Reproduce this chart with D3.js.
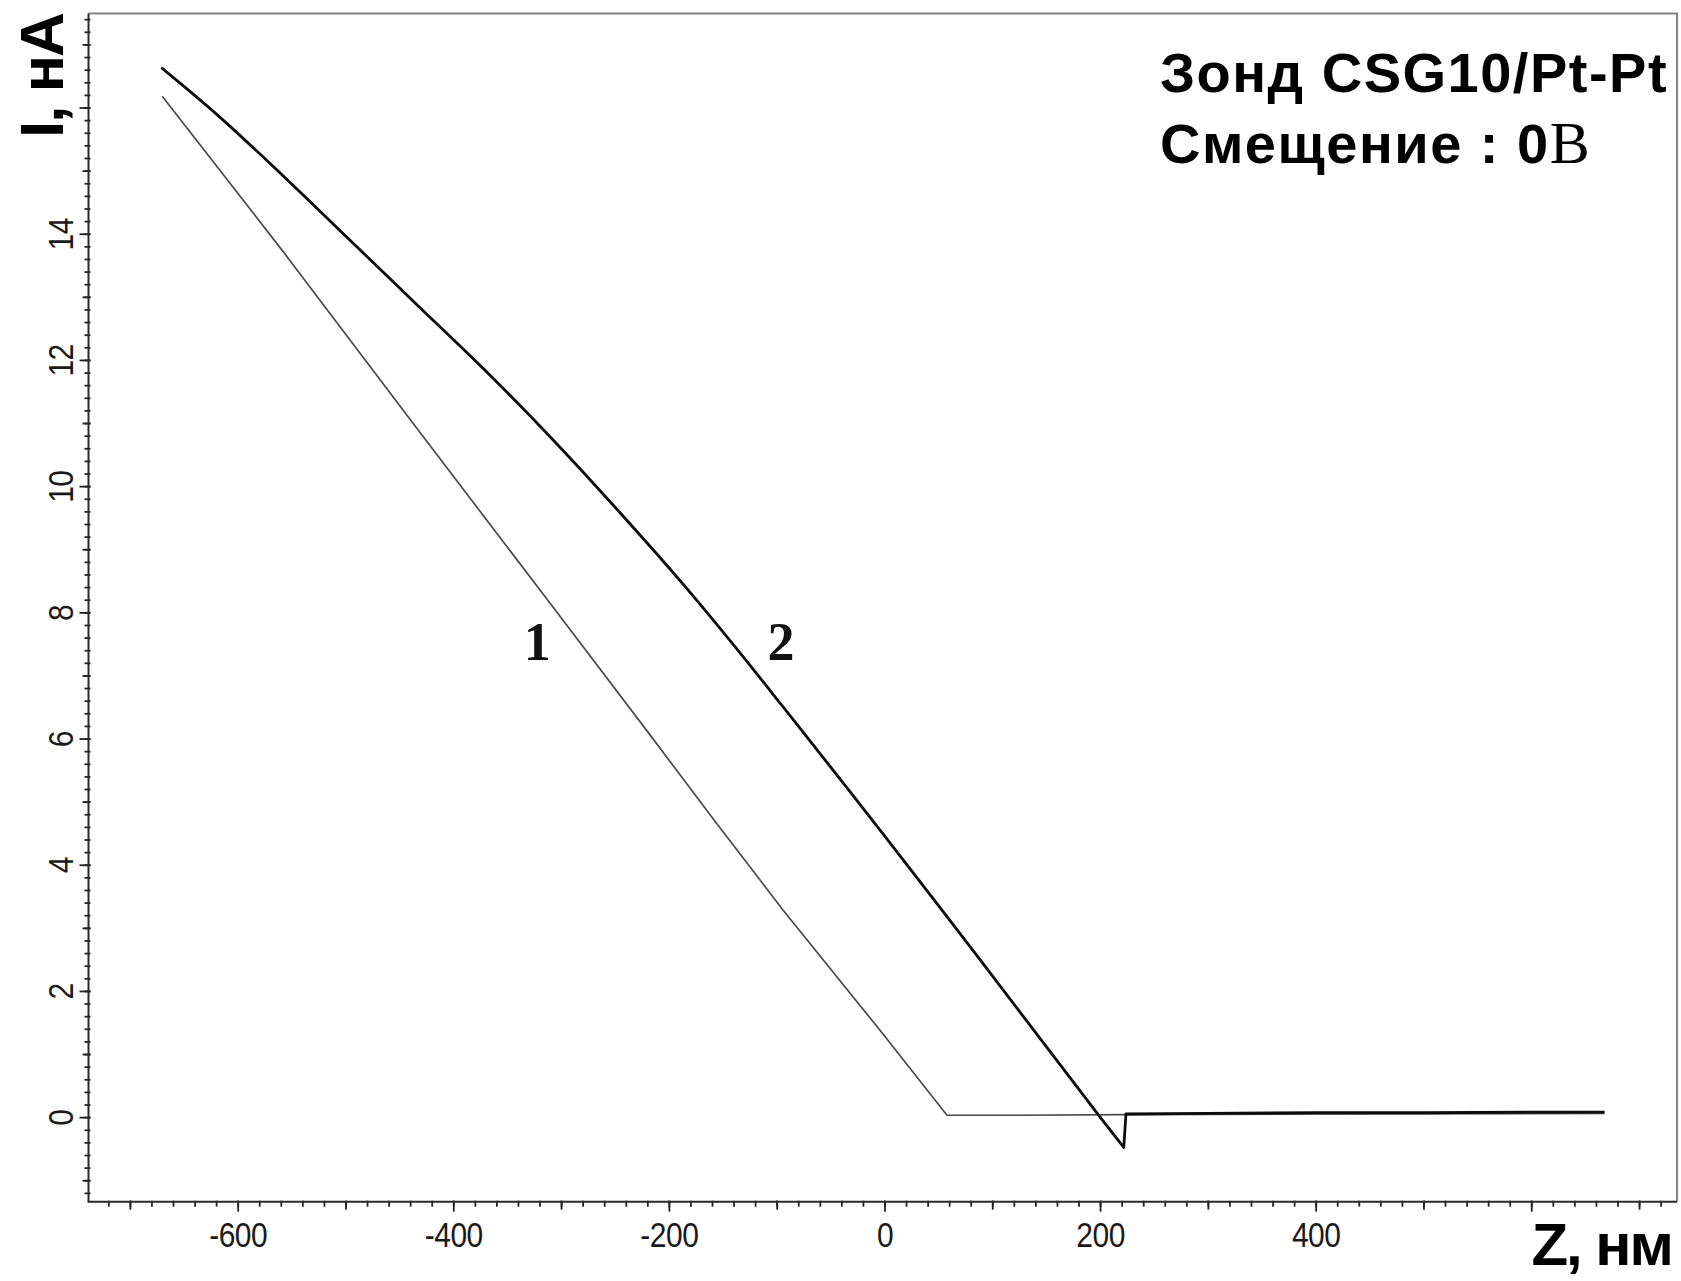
<!DOCTYPE html>
<html>
<head>
<meta charset="utf-8">
<script src="https://cdn.jsdelivr.net/npm/d3@7"></script>
<style>
  html, body { margin: 0; padding: 0; background: #fff; }
  svg { display: block; }
</style>
</head>
<body>
<svg id="chart" width="1681" height="1281"></svg>
<script>
// Tip approach (1) and retraction (2) curves: current I (nA) vs. Z (nm)
const zApproach = [-670, -558, -434, -310, -218, -156, -94, -1, 58, 120, 225, 400, 668];
const iApproach = [16.18, 13.72, 10.92, 8.14, 6.07, 4.66, 3.28, 1.31, 0.03, 0.03, 0.04, 0.05, 0.06];

const zRetract = [-670, -620, -558, -496, -434, -372, -310, -248, -186, -137, -94, -32, -1, 48, 92, 200, 222, 224, 300, 400, 500, 600, 668];
const iRetract = [16.62, 15.90, 14.92, 13.90, 12.88, 11.86, 10.78, 9.63, 8.43, 7.42, 6.50, 5.16, 4.48, 3.40, 2.42, 0.00, -0.48, 0.05, 0.06, 0.07, 0.07, 0.08, 0.08];

const xTickLabels = [-600, -400, -200, 0, 200, 400];
const yTickLabels = [0, 2, 4, 6, 8, 10, 12, 14];
const curveNames = ["1", "2"];
const titleLines = ["Зонд CSG10/Pt-Pt", "Смещение : 0"];
const voltUnit = "В";
const xTitle = "Z, нм";
const yTitle = "I, нА";

(function draw() {
  const svg = d3.select("#chart");
  const pL = 88.5, pR = 1677, pT = 13.5, pB = 1201.7;

  const x = d3.scaleLinear().domain([-738.4, 735.2]).range([pL, pR]);
  const y = d3.scaleLinear().domain([-1.34, 17.49]).range([pB, pT]);

  svg.append("rect").attr("width", 1681).attr("height", 1281).attr("fill", "#fff");

  // frame: grey top/right edges
  svg.append("path")
    .attr("d", `M${pL},${pT}H${pR}V${pB}`)
    .attr("fill", "none").attr("stroke", "#858585").attr("stroke-width", 2);

  // tick sets
  const xMinor = d3.range(-36, 37).map(i => i * 20);
  const xMid = d3.range(-7, 8, 2).map(i => i * 100);
  const xMajor = d3.range(-6, 7, 2).map(i => i * 100);
  const yMinor = d3.range(-6, 88).map(i => i / 5);
  const yMid = d3.range(-1, 18, 2);
  const yMajor = d3.range(0, 17, 2);

  function ticksX(values, len, inner) {
    const g = svg.append("g").attr("transform", `translate(0,${pB})`)
      .call(d3.axisBottom(x).tickValues(values).tickSize(len).tickSizeOuter(0).tickFormat(""));
    g.select(".domain").remove();
    g.selectAll("line").attr("y1", -inner).attr("stroke", "#222").attr("stroke-width", 1.8);
  }
  function ticksY(values, len, inner) {
    const g = svg.append("g").attr("transform", `translate(${pL},0)`)
      .call(d3.axisLeft(y).tickValues(values).tickSize(len).tickSizeOuter(0).tickFormat(""));
    g.select(".domain").remove();
    g.selectAll("line").attr("x1", inner).attr("stroke", "#222").attr("stroke-width", 1.8);
  }
  ticksX(xMinor, 5, 1);
  ticksX(xMid, 8, 1);
  ticksX(xMajor, 10, 1);
  ticksY(yMinor, 4, 2);
  ticksY(yMid, 6, 2);
  ticksY(yMajor, 9, 2);

  // dark left and bottom axis lines
  svg.append("path")
    .attr("d", `M${pL},${pT}V${pB}H${pR}`)
    .attr("fill", "none").attr("stroke", "#2a2a2a").attr("stroke-width", 2);

  // tick labels (plain hyphen for negatives)
  const labelFont = "'Liberation Sans', Arial, sans-serif";
  const plain = d => String(d);
  const gxl = svg.append("g").attr("transform", `translate(0,${pB})`)
    .call(d3.axisBottom(x).tickValues(xTickLabels).tickSize(0).tickFormat(plain));
  gxl.select(".domain").remove();
  gxl.selectAll("text")
    .attr("y", null).attr("dy", null)
    .attr("transform", "translate(0,45.5) scale(1,1.15)")
    .attr("font-family", labelFont).attr("font-size", 30).attr("fill", "#1a1a1a")
    .attr("letter-spacing", -0.5);

  const gyl = svg.append("g").attr("transform", `translate(${pL},0)`)
    .call(d3.axisLeft(y).tickValues(yTickLabels).tickSize(0).tickFormat(plain));
  gyl.select(".domain").remove();
  gyl.selectAll("text")
    .attr("x", null).attr("dy", null)
    .attr("text-anchor", "middle")
    .attr("transform", "translate(-15.5,0) rotate(-90) scale(1,1.15)")
    .attr("font-family", labelFont).attr("font-size", 30).attr("fill", "#1a1a1a")
    .attr("letter-spacing", -0.5);

  // curves
  const line = d3.line().x(d => x(d[0])).y(d => y(d[1]));
  const smooth = d3.line().x(d => x(d[0])).y(d => y(d[1])).curve(d3.curveMonotoneX);
  const approach = zApproach.map((z, i) => [z, iApproach[i]]);
  const retract = zRetract.map((z, i) => [z, iRetract[i]]);
  // retraction: smooth descending branch down to the zero crossing, straight V and plateau after it
  const split = zRetract.indexOf(200);
  const retractSlope = retract.slice(0, split + 1);
  const retractTail = retract.slice(split);

  svg.append("path").datum(approach).attr("d", line)
    .attr("fill", "none").attr("stroke", "#4a4a4a").attr("stroke-width", 1.7)
    .attr("stroke-linejoin", "round");
  svg.append("path").datum(retractSlope).attr("d", smooth)
    .attr("fill", "none").attr("stroke", "#0c0c0c").attr("stroke-width", 2.8)
    .attr("stroke-linecap", "round");
  svg.append("path").datum(retractTail).attr("d", line)
    .attr("fill", "none").attr("stroke", "#0c0c0c").attr("stroke-width", 2.8)
    .attr("stroke-linejoin", "round");

  // curve numbers
  const serif = "'Liberation Serif', 'Times New Roman', serif";
  svg.append("text").attr("x", x(-322)).attr("y", y(7.25))
    .attr("text-anchor", "middle").attr("font-family", serif).attr("font-weight", "bold")
    .attr("font-size", 54).attr("fill", "#111").text(curveNames[0]);
  svg.append("text").attr("x", x(-96)).attr("y", y(7.25))
    .attr("text-anchor", "middle").attr("font-family", serif).attr("font-weight", "bold")
    .attr("font-size", 54).attr("fill", "#111").text(curveNames[1]);

  // probe / bias annotation
  const boldSans = "'Liberation Sans', Arial, sans-serif";
  svg.append("text").attr("x", 1160).attr("y", 92)
    .attr("font-family", boldSans).attr("font-weight", "bold").attr("font-size", 56)
    .attr("letter-spacing", 1.5).attr("fill", "#000").text(titleLines[0]);
  const t2 = svg.append("text").attr("x", 1160).attr("y", 163)
    .attr("font-family", boldSans).attr("font-weight", "bold").attr("font-size", 56)
    .attr("letter-spacing", 1.5).attr("fill", "#000");
  t2.append("tspan").text(titleLines[1]);
  t2.append("tspan").attr("font-family", serif).attr("font-weight", "normal")
    .attr("font-size", 60).attr("letter-spacing", 0).text(voltUnit);

  // axis titles
  svg.append("text").attr("transform", "translate(63,138) rotate(-90)")
    .attr("font-family", boldSans).attr("font-weight", "bold").attr("font-size", 62)
    .attr("letter-spacing", -2).attr("fill", "#000").text(yTitle);
  svg.append("text").attr("x", 1672).attr("y", 1265).attr("text-anchor", "end")
    .attr("font-family", boldSans).attr("font-weight", "bold").attr("font-size", 60)
    .attr("letter-spacing", -2).attr("fill", "#000").text(xTitle);
})();
</script>
</body>
</html>
